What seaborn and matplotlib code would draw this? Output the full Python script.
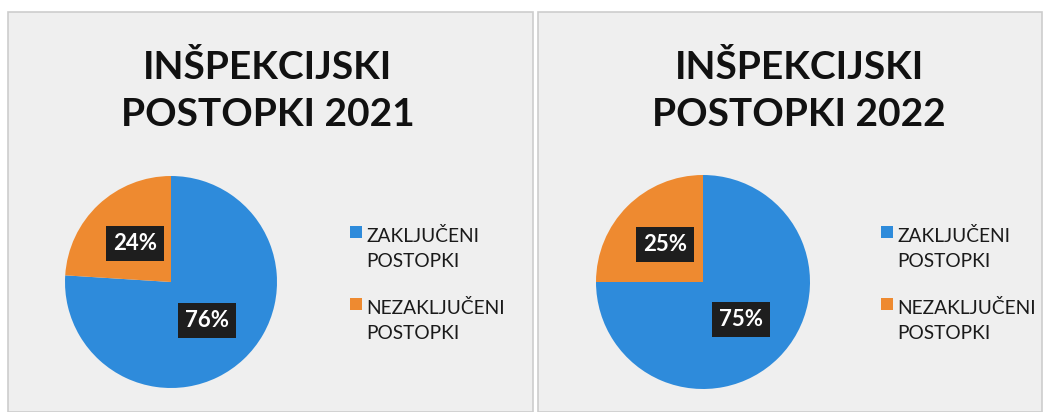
import matplotlib
matplotlib.use("Agg")
import matplotlib.pyplot as plt
from matplotlib.patches import Rectangle, Patch
from matplotlib.legend_handler import HandlerPatch
import seaborn as sns

# ---- data ----
years = ["2021", "2022"]
categories = ["ZAKLJUČENI\nPOSTOPKI", "NEZAKLJUČENI\nPOSTOPKI"]
values_2021 = [76, 24]
values_2022 = [75, 25]
titles = ["INŠPEKCIJSKI\nPOSTOPKI 2021", "INŠPEKCIJSKI\nPOSTOPKI 2022"]
colors = ["#2E8BDB", "#EE8A30"]

sns.set_theme(style="white")
plt.rcParams["font.family"] = ["Lato", "DejaVu Sans"]
palette = sns.color_palette(colors)

W, H = 1045, 412
fig = plt.figure(figsize=(W / 100, H / 100), dpi=100)
fig.patch.set_facecolor("white")


def fx(px):
    return px / W


def fy(py):
    return 1 - py / H


# panel backgrounds (layout)
panels = [(8, 12, 525, 400), (538, 12, 504, 400)]
for (x0, y0, w, h) in panels:
    fig.patches.append(Rectangle((fx(x0), fy(y0 + h)), w / W, h / H,
                                 transform=fig.transFigure,
                                 facecolor="#EFEFEF", edgecolor="#CDCDCD",
                                 linewidth=1.2, zorder=-10))


class TopSquare(HandlerPatch):
    def create_artists(self, legend, orig_handle, xdescent, ydescent,
                       width, height, fontsize, trans):
        s = 0.62 * fontsize
        shift = 0.88 * fontsize
        r = Rectangle((-xdescent + (width - s) / 2,
                       -ydescent + (height - s) / 2 + shift), s, s)
        self.update_prop(r, orig_handle, legend)
        r.set_transform(trans)
        return [r]


pie_specs = [
    dict(cx=171, cy=282, r=106, title_x=268, legend_x=349),
    dict(cx=703, cy=282, r=107, title_x=799, legend_x=880),
]
all_values = [values_2021, values_2022]

for spec, vals, title in zip(pie_specs, all_values, titles):
    r = spec["r"]
    ax = fig.add_axes([fx(spec["cx"] - r), fy(spec["cy"] + r), 2 * r / W, 2 * r / H])
    ax.set_zorder(2)
    wedges, texts, autotexts = ax.pie(
        vals, colors=palette, startangle=90, counterclock=False,
        autopct="%d%%", pctdistance=0.5, radius=1.0,
        wedgeprops=dict(linewidth=0),
        textprops=dict(color="white", fontsize=16, fontweight="bold"),
    )
    for t in autotexts:
        t.set_bbox(dict(boxstyle="square,pad=0.32", facecolor="#1E1E1E",
                        edgecolor="none"))
    ax.set_xlim(-1, 1)
    ax.set_ylim(-1, 1)
    ax.set_aspect("equal")
    ax.axis("off")

    fig.text(fx(spec["title_x"]), fy(91), title, ha="center", va="center",
             fontsize=28, fontweight="bold", color="#111111", linespacing=1.42)

    handles = [Patch(facecolor=c, edgecolor="none") for c in palette]
    leg = fig.legend(handles, categories, loc="upper left",
                     bbox_to_anchor=(fx(spec["legend_x"]), fy(227)),
                     frameon=False, fontsize=13.8, borderpad=0, borderaxespad=0,
                     handlelength=0.72, handleheight=0.72, handletextpad=0.2,
                     labelspacing=1.55,
                     handler_map={Patch: TopSquare()})
    for t in leg.get_texts():
        t.set_linespacing(1.55)
        t.set_color("#1A1A1A")

fig.savefig("out.png", dpi=100)
